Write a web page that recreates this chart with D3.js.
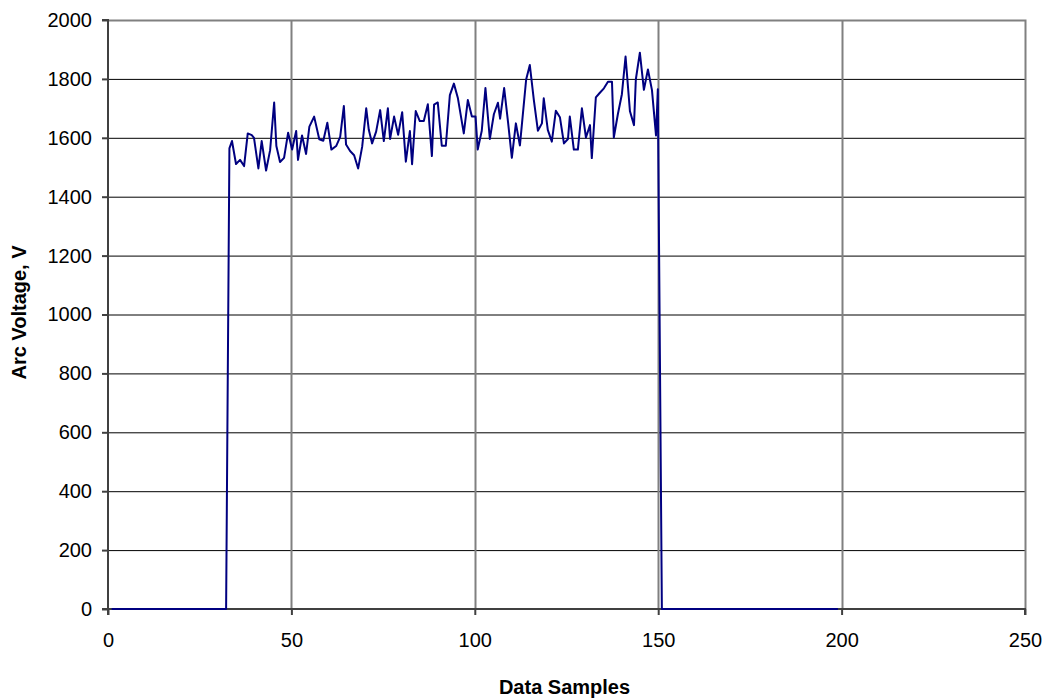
<!DOCTYPE html>
<html>
<head>
<meta charset="utf-8">
<script src="https://cdn.jsdelivr.net/npm/d3@7"></script>
<style>
  html, body { margin: 0; padding: 0; background: #fff; }
  svg { display: block; font-family: "Liberation Sans", Arial, sans-serif; }
</style>
</head>
<body>
<svg id="chart" width="1048" height="698"></svg>
<script>
// ---- data ----
const sampleX = [1, 32.2, 33.1, 33.8, 34.9, 36.0, 37.1, 38.1, 39.2, 39.8, 41.0, 41.9, 43.1, 44.2, 45.3, 45.9, 46.9, 48.0, 49.1, 50.2,
  51.3, 51.8, 52.9, 54.0, 54.9, 56.2, 57.6, 58.7, 59.8, 60.9, 62.2, 63.3, 64.3, 64.9, 66.0, 67.1, 68.2, 69.3, 70.4, 71.1,
  72.0, 73.1, 74.2, 75.2, 76.3, 76.9, 78.0, 79.1, 80.2, 81.2, 82.3, 82.9, 83.9, 85.0, 86.1, 87.2, 88.3, 88.9, 89.9, 91.0,
  92.1, 93.2, 94.3, 95.4, 97.0, 98.1, 99.2, 100.2, 100.8, 101.9, 102.9, 104.1, 105.2, 106.3, 106.9, 108.0, 109.1, 110.1, 111.2, 112.3,
  114.0, 115.0, 116.1, 117.2, 118.3, 118.8, 119.9, 121.0, 122.1, 123.2, 124.3, 125.4, 125.9, 127.0, 128.1, 129.2, 130.3, 131.4, 131.9, 133.0,
  134.1, 135.2, 136.3, 137.4, 137.9, 139.0, 140.1, 141.1, 142.3, 143.4, 143.9, 145.0, 146.1, 147.2, 148.3, 149.4, 149.9, 151.0, 199];
const arcVoltage = [0, 0, 1564, 1589, 1511, 1525, 1504, 1615, 1609, 1600, 1496, 1589, 1489, 1558, 1720, 1572, 1518, 1532, 1617, 1560,
  1623, 1525, 1608, 1545, 1638, 1672, 1595, 1590, 1651, 1560, 1572, 1603, 1708, 1577, 1555, 1541, 1496, 1570, 1700, 1627,
  1581, 1621, 1694, 1589, 1700, 1596, 1672, 1610, 1687, 1519, 1623, 1510, 1691, 1657, 1657, 1714, 1538, 1713, 1720, 1573,
  1573, 1745, 1784, 1734, 1615, 1728, 1672, 1672, 1560, 1624, 1769, 1596, 1680, 1719, 1665, 1769, 1649, 1532, 1649, 1574,
  1798, 1847, 1728, 1624, 1649, 1734, 1627, 1587, 1692, 1670, 1581, 1596, 1672, 1560, 1560, 1700, 1601, 1643, 1531, 1737,
  1753, 1768, 1790, 1790, 1601, 1680, 1748, 1876, 1690, 1643, 1798, 1889, 1763, 1832, 1762, 1608, 1765, 0, 0];
const xTicks = [0, 50, 100, 150, 200, 250];
const yTicks = [0, 200, 400, 600, 800, 1000, 1200, 1400, 1600, 1800, 2000];
const xTitle = "Data Samples";
const yTitle = "Arc Voltage, V";

// ---- layout ----
const svg = d3.select("#chart");
const L = 108, T = 20, R = 1025, B = 609;
const x = d3.scaleLinear().domain([0, 250]).range([L, R]);
const y = d3.scaleLinear().domain([0, 2000]).range([B, T]);

// horizontal gridlines (black)
svg.append("g").selectAll("line").data(yTicks.filter(d => d > 0 && d < 2000)).join("line")
  .attr("x1", L).attr("x2", R).attr("y1", d => y(d) + 0.5).attr("y2", d => y(d) + 0.5)
  .attr("stroke", "#000").attr("stroke-width", 1);
// vertical gridlines (gray)
svg.append("g").selectAll("line").data(xTicks.filter(d => d > 0 && d < 250)).join("line")
  .attr("x1", d => Math.round(x(d)) + 0.5).attr("x2", d => Math.round(x(d)) + 0.5).attr("y1", T).attr("y2", B)
  .attr("stroke", "#808080").attr("stroke-width", 2);
// plot border (gray) top/right
svg.append("path")
  .attr("d", `M${L},${T + 0.5}H${R + 0.5}V${B}`)
  .attr("fill", "none").attr("stroke", "#808080").attr("stroke-width", 2);

// axes
const fmt = d3.format("d");
const xAxis = d3.axisBottom(x).tickValues(xTicks).tickFormat(fmt).tickSize(6).tickPadding(18);
const yAxis = d3.axisLeft(y).tickValues(yTicks).tickFormat(fmt).tickSize(6).tickPadding(10);
const gx = svg.append("g").attr("transform", `translate(0,${B})`).call(xAxis);
const gy = svg.append("g").attr("transform", `translate(${L},0)`).call(yAxis);
[gx, gy].forEach(g => {
  g.select(".domain").attr("stroke", "#404040").attr("stroke-width", 2);
  g.selectAll(".tick line").attr("stroke", "#404040").attr("stroke-width", 2);
  g.selectAll(".tick text").attr("font-size", 20).attr("fill", "#000")
    .attr("font-family", "Liberation Sans, Arial, sans-serif");
});
gy.select(".domain").attr("d", `M-6,${B}H0V${T}H-6`);
gx.select(".domain").attr("d", `M${L},${6}V0H${R}V6`);

// data line (on top of the axes)
const line = d3.line().x((d, i) => x(sampleX[i])).y(d => y(d));
svg.append("path").datum(arcVoltage)
  .attr("d", line)
  .attr("fill", "none").attr("stroke", "#000080").attr("stroke-width", 2)
  .attr("stroke-linejoin", "round");

// titles
svg.append("text").attr("x", (L + R) / 2 - 2).attr("y", 694)
  .attr("text-anchor", "middle").attr("font-size", 20).attr("font-weight", "bold")
  .text(xTitle);
svg.append("text").attr("transform", `translate(26,${(T + B) / 2 - 2}) rotate(-90)`)
  .attr("text-anchor", "middle").attr("font-size", 20).attr("font-weight", "bold")
  .text(yTitle);
</script>
</body>
</html>
